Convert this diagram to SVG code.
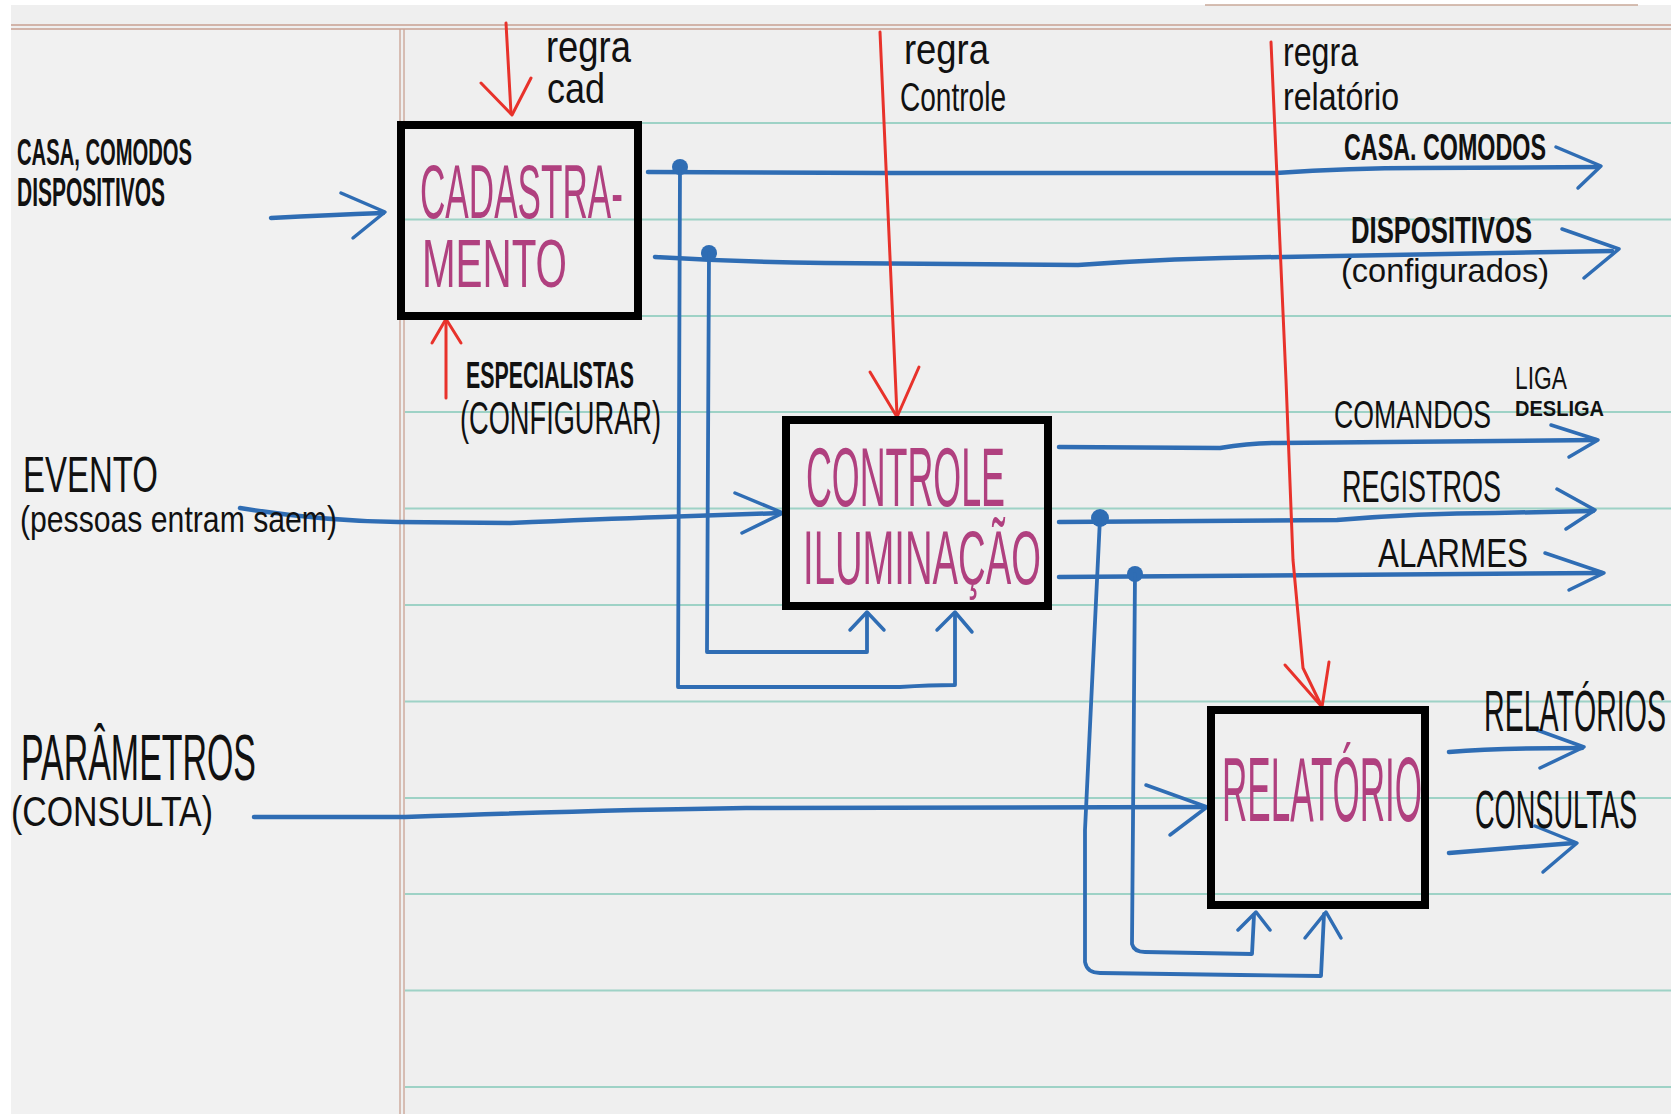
<svg xmlns="http://www.w3.org/2000/svg" width="1671" height="1114" viewBox="0 0 1671 1114">
  <style>
    .paper { fill: #efefef; }
    .rule { stroke: #9ed2c6; stroke-width: 2; fill: none; }
    .margin { stroke: #c9a192; stroke-width: 1.3; fill: none; }
    .box { fill: none; stroke: #000; stroke-width: 8; }
    .flow { fill: none; stroke: #2f6db4; stroke-width: 4.5; stroke-linecap: round; stroke-linejoin: round; }
    .flow-thin { fill: none; stroke: #2f6db4; stroke-width: 3.8; stroke-linecap: round; stroke-linejoin: round; }
    .head { fill: none; stroke: #2f6db4; stroke-width: 3.5; stroke-linecap: round; stroke-linejoin: round; }
    .dot { fill: #2f6db4; }
    .rule-in { fill: none; stroke: #e8322b; stroke-width: 3; stroke-linecap: round; stroke-linejoin: round; }
    .title { fill: #b0407f; font-family: "Liberation Sans Narrow", "Liberation Sans", "DejaVu Sans", sans-serif; }
    .lbl { fill: #111; font-family: "Liberation Sans Narrow", "Liberation Sans", "DejaVu Sans", sans-serif; }
    .b { font-weight: bold; }
  </style>

  <!-- sheet of ruled paper -->
  <rect x="0" y="0" width="1671" height="1114" fill="#ffffff"/>
  <rect class="paper" x="11" y="5" width="1660" height="1109"/>
  <rect x="11" y="30" width="389" height="1084" fill="#f1f1f1"/>
  <line x1="1205" y1="5" x2="1638" y2="5" stroke="#c9a898" stroke-width="1.5"/>
  <g id="ruling">
    <line class="margin" x1="11" y1="25" x2="1671" y2="25"/>
    <line class="margin" x1="11" y1="29" x2="1671" y2="29"/>
    <line class="margin" x1="400" y1="29" x2="400" y2="1114"/>
    <line class="margin" x1="404" y1="29" x2="404" y2="1114"/>
    <line class="rule" x1="405" y1="123" x2="1671" y2="123"/>
    <line class="rule" x1="405" y1="219.5" x2="1671" y2="219.5"/>
    <line class="rule" x1="405" y1="316" x2="1671" y2="316"/>
    <line class="rule" x1="405" y1="412" x2="1671" y2="412"/>
    <line class="rule" x1="405" y1="508.5" x2="1671" y2="508.5"/>
    <line class="rule" x1="405" y1="605" x2="1671" y2="605"/>
    <line class="rule" x1="405" y1="701.5" x2="1671" y2="701.5"/>
    <line class="rule" x1="405" y1="798" x2="1671" y2="798"/>
    <line class="rule" x1="405" y1="894" x2="1671" y2="894"/>
    <line class="rule" x1="405" y1="990.5" x2="1671" y2="990.5"/>
    <line class="rule" x1="405" y1="1087" x2="1671" y2="1087"/>
  </g>

  <!-- flows between the processes -->
  <g id="connectors">
    <!-- inputs -->
    <path class="flow" d="M271,218 Q330,215 383,213"/>
    <path class="head" d="M341,193 L385,212 L353,238"/>
    <path class="flow" d="M240,508 Q320,521 398,522 L510,523 Q600,519 663,517 L781,513"/>
    <path class="head" d="M735,493 L783,513 L742,533"/>
    <path class="flow" d="M254,817 L405,817 Q600,810 746,808 L1204,807"/>
    <path class="head" d="M1146,785 L1207,807 L1170,835"/>

    <!-- outputs of cadastramento -->
    <path class="flow" d="M648,172 L887,173 L1276,173 Q1350,168 1420,168 L1598,167"/>
    <path class="head" d="M1556,147 L1601,166 L1578,188"/>
    <path class="flow" d="M655,257 Q740,262 825,263 L1078,265 Q1180,258 1283,257 L1612,251"/>
    <path class="head" d="M1562,229 L1619,249 L1584,278"/>
    <circle class="dot" cx="680" cy="167" r="8"/>
    <circle class="dot" cx="709" cy="253" r="8"/>

    <!-- cadastramento feeds controle -->
    <path class="flow-thin" d="M680,167 L678,687 L900,687 Q930,685 955,685 L955,614"/>
    <path class="head" d="M937,630 L955,612 L972,632"/>
    <path class="flow-thin" d="M709,253 L707,652 L867,652 L867,614"/>
    <path class="head" d="M850,630 L867,612 L884,630"/>

    <!-- outputs of controle -->
    <path class="flow" d="M1059,447 L1220,448 Q1250,443 1278,443 L1596,440"/>
    <path class="head" d="M1551,425 L1598,440 L1569,457"/>
    <path class="flow" d="M1059,522 L1337,520 Q1420,513 1495,513 L1593,511"/>
    <path class="head" d="M1557,489 L1595,510 L1566,529"/>
    <path class="flow" d="M1059,577 L1602,573"/>
    <path class="head" d="M1545,553 L1604,573 L1569,590"/>
    <circle class="dot" cx="1100" cy="518" r="9"/>
    <circle class="dot" cx="1135" cy="574" r="8"/>

    <!-- controle feeds relatorio -->
    <path class="flow-thin" d="M1100,518 L1085,830 L1085,962 Q1087,973 1100,973 L1240,975 L1321,976 L1324,914"/>
    <path class="head" d="M1305,938 L1326,912 L1341,938"/>
    <path class="flow-thin" d="M1135,574 L1132,944 Q1134,952 1145,952 L1252,954 L1254,915"/>
    <path class="head" d="M1238,930 L1256,912 L1270,930"/>

    <!-- outputs of relatorio -->
    <path class="flow" d="M1449,752 Q1500,748 1582,748"/>
    <path class="head" d="M1537,730 L1584,747 L1540,768"/>
    <path class="flow" d="M1449,853 Q1510,848 1574,843"/>
    <path class="head" d="M1535,826 L1577,843 L1543,872"/>

    <!-- controls and mechanisms -->
    <path class="rule-in" d="M506,23 L511,113"/>
    <path class="rule-in" d="M481,83 L512,115 L531,78"/>
    <path class="rule-in" d="M446,398 L446,321"/>
    <path class="rule-in" d="M432,343 L446,319 L461,343"/>
    <path class="rule-in" d="M880,32 L897,415"/>
    <path class="rule-in" d="M870,372 L897,417 L919,367"/>
    <path class="rule-in" d="M1271,42 L1286,380 L1293,560 L1303,668 L1322,707"/>
    <path class="rule-in" d="M1285,665 L1322,707 L1329,662"/>
  </g>

  <!-- processes -->
  <g id="node-cadastramento">
    <rect class="box" x="401" y="125" width="237" height="191"/>
    <text class="title" x="420" y="218" font-size="76" textLength="203" lengthAdjust="spacingAndGlyphs">CADASTRA-</text>
    <text class="title" x="422" y="287" font-size="68" textLength="145" lengthAdjust="spacingAndGlyphs">MENTO</text>
  </g>
  <g id="node-controle">
    <rect class="box" x="786" y="420" width="262" height="186"/>
    <text class="title" x="806" y="506" font-size="84" textLength="199" lengthAdjust="spacingAndGlyphs">CONTROLE</text>
    <text class="title" x="803" y="584" font-size="76" textLength="238" lengthAdjust="spacingAndGlyphs">ILUMINAÇÃO</text>
  </g>
  <g id="node-relatorio">
    <rect class="box" x="1211" y="710" width="214" height="195" stroke-width="9"/>
    <text class="title" x="1222" y="821" font-size="90" textLength="200" lengthAdjust="spacingAndGlyphs">RELATÓRIO</text>
  </g>

  <!-- flow labels -->
  <g id="labels">
    <text class="lbl b" x="17" y="165" font-size="37" textLength="175" lengthAdjust="spacingAndGlyphs">CASA, COMODOS</text>
    <text class="lbl b" x="17" y="206" font-size="40" textLength="148" lengthAdjust="spacingAndGlyphs">DISPOSITIVOS</text>

    <text class="lbl" x="546" y="62" font-size="44" textLength="85" lengthAdjust="spacingAndGlyphs">regra</text>
    <text class="lbl" x="547" y="103" font-size="42" textLength="58" lengthAdjust="spacingAndGlyphs">cad</text>
    <text class="lbl" x="904" y="64" font-size="42" textLength="85" lengthAdjust="spacingAndGlyphs">regra</text>
    <text class="lbl" x="900" y="111" font-size="40" textLength="106" lengthAdjust="spacingAndGlyphs">Controle</text>
    <text class="lbl" x="1283" y="66" font-size="40" textLength="75" lengthAdjust="spacingAndGlyphs">regra</text>
    <text class="lbl" x="1283" y="110" font-size="38" textLength="116" lengthAdjust="spacingAndGlyphs">relatório</text>

    <text class="lbl b" x="466" y="388" font-size="36" textLength="168" lengthAdjust="spacingAndGlyphs">ESPECIALISTAS</text>
    <text class="lbl" x="460" y="434" font-size="46" textLength="201" lengthAdjust="spacingAndGlyphs">(CONFIGURAR)</text>

    <text class="lbl" x="23" y="492" font-size="50" textLength="135" lengthAdjust="spacingAndGlyphs">EVENTO</text>
    <text class="lbl" x="20" y="532" font-size="36" textLength="317" lengthAdjust="spacingAndGlyphs">(pessoas entram saem)</text>

    <text class="lbl" x="21" y="780" font-size="64" textLength="235" lengthAdjust="spacingAndGlyphs">PARÂMETROS</text>
    <text class="lbl" x="11" y="826" font-size="42" textLength="202" lengthAdjust="spacingAndGlyphs">(CONSULTA)</text>

    <text class="lbl b" x="1344" y="160" font-size="37" textLength="202" lengthAdjust="spacingAndGlyphs">CASA. COMODOS</text>
    <text class="lbl b" x="1351" y="243" font-size="36" textLength="181" lengthAdjust="spacingAndGlyphs">DISPOSITIVOS</text>
    <text class="lbl" x="1341" y="282" font-size="34" textLength="208" lengthAdjust="spacingAndGlyphs">(configurados)</text>

    <text class="lbl" x="1334" y="428" font-size="39" textLength="157" lengthAdjust="spacingAndGlyphs">COMANDOS</text>
    <text class="lbl" x="1515" y="389" font-size="32" textLength="52" lengthAdjust="spacingAndGlyphs">LIGA</text>
    <text class="lbl b" x="1515" y="416" font-size="22" textLength="89" lengthAdjust="spacingAndGlyphs">DESLIGA</text>
    <text class="lbl" x="1342" y="502" font-size="44" textLength="159" lengthAdjust="spacingAndGlyphs">REGISTROS</text>
    <text class="lbl" x="1378" y="567" font-size="40" textLength="150" lengthAdjust="spacingAndGlyphs">ALARMES</text>

    <text class="lbl" x="1484" y="731" font-size="58" textLength="182" lengthAdjust="spacingAndGlyphs">RELATÓRIOS</text>
    <text class="lbl" x="1475" y="828" font-size="54" textLength="162" lengthAdjust="spacingAndGlyphs">CONSULTAS</text>
  </g>
</svg>
